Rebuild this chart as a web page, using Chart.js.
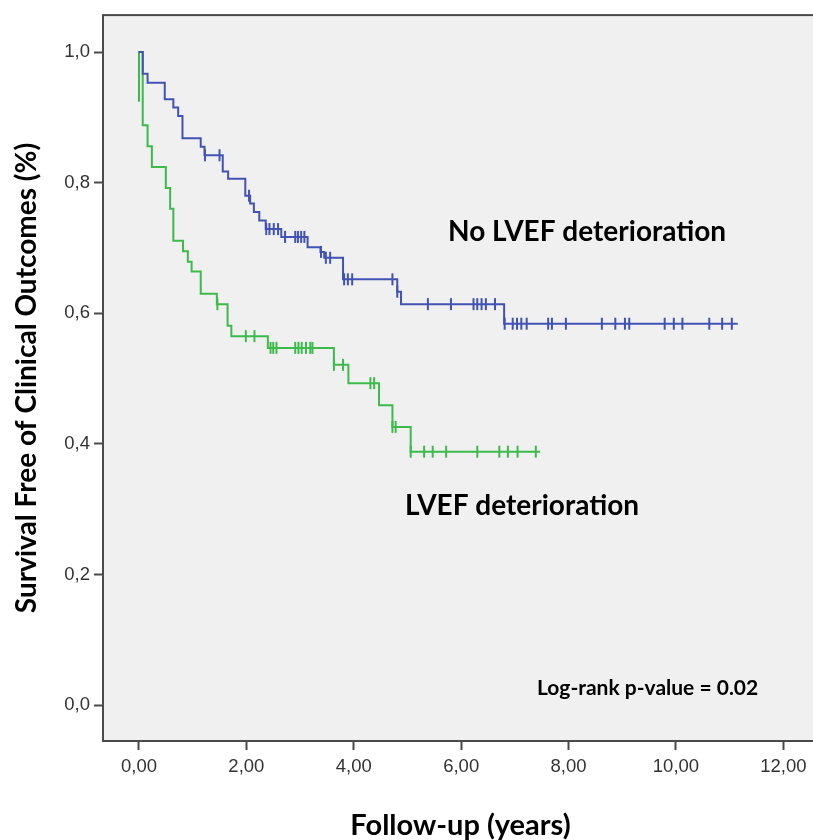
<!DOCTYPE html>
<html>
<head>
<meta charset="utf-8">
<script src="https://cdn.jsdelivr.net/npm/chart.js@4"></script>
<style>
  html, body { margin: 0; padding: 0; background: #fff; overflow: hidden; }
  #wrap { width: 813px; height: 840px; overflow: hidden; }
</style>
</head>
<body>
<div id="wrap"><canvas id="km" width="826" height="840"></canvas></div>
<script>
// Kaplan-Meier steps (time in years, survival fraction)
const noDetTimes = [0, 0.07, 0.16, 0.48, 0.64, 0.73, 0.81, 1.15, 1.22, 1.56, 1.66, 1.98, 2.07, 2.14, 2.24, 2.36, 2.65, 3.14, 3.38, 3.45, 3.80, 4.81, 4.88, 6.80, 11.15];
const noDetSurv  = [1.0, 0.967, 0.953, 0.928, 0.915, 0.902, 0.868, 0.855, 0.842, 0.817, 0.806, 0.780, 0.768, 0.755, 0.742, 0.729, 0.717, 0.701, 0.694, 0.685, 0.652, 0.633, 0.614, 0.584, 0.584];
const noDetCensored = [1.23, 1.50, 2.05, 2.37, 2.43, 2.51, 2.59, 2.72, 2.91, 2.96, 3.02, 3.08, 3.39, 3.48, 3.56, 3.82, 3.89, 3.97, 4.72, 4.81, 5.38, 5.81, 6.23, 6.30, 6.38, 6.46, 6.63, 6.81, 6.96, 7.04, 7.12, 7.22, 7.62, 7.69, 7.95, 8.62, 8.87, 9.05, 9.13, 9.79, 9.96, 10.12, 10.62, 10.86, 11.04];

const detTimes = [0, 0, 0.07, 0.16, 0.24, 0.50, 0.58, 0.64, 0.82, 0.91, 0.98, 1.15, 1.45, 1.65, 1.72, 2.40, 3.63, 3.90, 4.47, 4.72, 5.06, 7.47];
const detSurv  = [0.924, 1.0, 0.888, 0.856, 0.824, 0.792, 0.760, 0.711, 0.695, 0.679, 0.664, 0.630, 0.614, 0.581, 0.565, 0.547, 0.521, 0.493, 0.459, 0.426, 0.388, 0.388];
const detCensored = [1.46, 1.99, 2.15, 2.45, 2.50, 2.56, 2.91, 2.97, 3.03, 3.11, 3.19, 3.23, 3.63, 3.80, 4.31, 4.38, 4.72, 4.78, 5.06, 5.31, 5.47, 5.72, 6.30, 6.71, 6.87, 7.05, 7.39];

const xTicks = [0, 2, 4, 6, 8, 10, 12];
const yTicks = [0, 0.2, 0.4, 0.6, 0.8, 1.0];

const BLUE = '#4053b4';
const GREEN = '#3cbb4a';

function steps(times, surv) {
    return times.map((t, i) => ({ x: t, y: surv[i] }))
}

// censored marks sit on the curve at their time
function censorPoints(cens, times, surv) {
    return cens.map(t => {
        let s = surv[0]
        times.forEach((tt, i) => { if (tt <= t) s = surv[i] })
        return { x: t, y: s }
    })
}

const plotFrame = {
    id: 'plotFrame',
    beforeDraw(chart) {
        const { ctx, chartArea: a } = chart
        ctx.save()
        ctx.fillStyle = '#ffffff'
        ctx.fillRect(0, 0, chart.width, chart.height)
        ctx.fillStyle = '#f0f0f0'
        ctx.fillRect(a.left, a.top, a.right - a.left, a.bottom - a.top)
        ctx.restore()
    },
    afterDraw(chart) {
        const { ctx, chartArea: a } = chart
        ctx.save()
        ctx.strokeStyle = '#4a4a4a'
        ctx.lineWidth = 2
        ctx.strokeRect(a.left, a.top, a.right - a.left, a.bottom - a.top)

        ctx.fillStyle = '#000'
        ctx.textBaseline = 'middle'
        ctx.textAlign = 'left'
        ctx.font = 'bold 28px Lato'
        ctx.fillText('No LVEF deterioration', 448, 232)
        ctx.fillText('LVEF deterioration', 405, 506)
        ctx.font = 'bold 21px Lato'
        ctx.fillText('Log-rank p-value = 0.02', 537, 688)
        ctx.restore()
    }
}

const tickGrid = {
    drawOnChartArea: false,
    drawTicks: true,
    tickLength: 9,
    tickWidth: 2,
    tickColor: '#4a4a4a'
}

new Chart(document.getElementById('km'), {
    type: 'line',
    data: {
        datasets: [
            {
                label: 'No LVEF deterioration',
                data: steps(noDetTimes, noDetSurv),
                borderColor: BLUE,
                borderWidth: 2,
                stepped: 'before',
                pointRadius: 0
            },
            {
                label: 'LVEF deterioration',
                data: steps(detTimes, detSurv),
                borderColor: GREEN,
                borderWidth: 2,
                stepped: 'before',
                pointRadius: 0
            },
            {
                label: 'No LVEF deterioration censored',
                data: censorPoints(noDetCensored, noDetTimes, noDetSurv),
                showLine: false,
                pointStyle: 'line',
                pointRotation: 90,
                pointRadius: 6,
                pointBorderWidth: 2,
                pointBorderColor: BLUE
            },
            {
                label: 'LVEF deterioration censored',
                data: censorPoints(detCensored, detTimes, detSurv),
                showLine: false,
                pointStyle: 'line',
                pointRotation: 90,
                pointRadius: 6,
                pointBorderWidth: 2,
                pointBorderColor: GREEN
            }
        ]
    },
    options: {
        responsive: false,
        animation: false,
        layout: { padding: { top: 15, left: 0, right: 0, bottom: 0 } },
        plugins: {
            legend: { display: false },
            tooltip: { enabled: false }
        },
        scales: {
            x: {
                type: 'linear',
                min: -0.67,
                max: 12.645,
                afterBuildTicks: axis => { axis.ticks = xTicks.map(v => ({ value: v })) },
                afterFit: scale => { scale.height = 99 },
                border: { display: false },
                grid: tickGrid,
                ticks: {
                    padding: 6,
                    color: '#333',
                    font: { family: 'Liberation Sans', size: 18.5 },
                    callback: v => v.toFixed(2).replace('.', ',')
                },
                title: {
                    display: true,
                    text: 'Follow-up (years)',
                    color: '#000',
                    font: { family: 'Lato', size: 29, weight: 'bold', lineHeight: 1 },
                    padding: { top: 0, bottom: 0 }
                }
            },
            y: {
                type: 'linear',
                min: -0.0551,
                max: 1.0567,
                afterBuildTicks: axis => { axis.ticks = yTicks.map(v => ({ value: v })) },
                afterFit: scale => { scale.width = 103 },
                border: { display: false },
                grid: tickGrid,
                ticks: {
                    padding: 4,
                    color: '#333',
                    font: { family: 'Liberation Sans', size: 18.5 },
                    callback: v => v.toFixed(1).replace('.', ',')
                },
                title: {
                    display: true,
                    text: 'Survival Free of Clinical Outcomes (%)',
                    color: '#000',
                    font: { family: 'Lato', size: 28, weight: 'bold', lineHeight: 1 },
                    padding: { top: 13, bottom: 0 }
                }
            }
        }
    },
    plugins: [plotFrame]
})
</script>
</body>
</html>
